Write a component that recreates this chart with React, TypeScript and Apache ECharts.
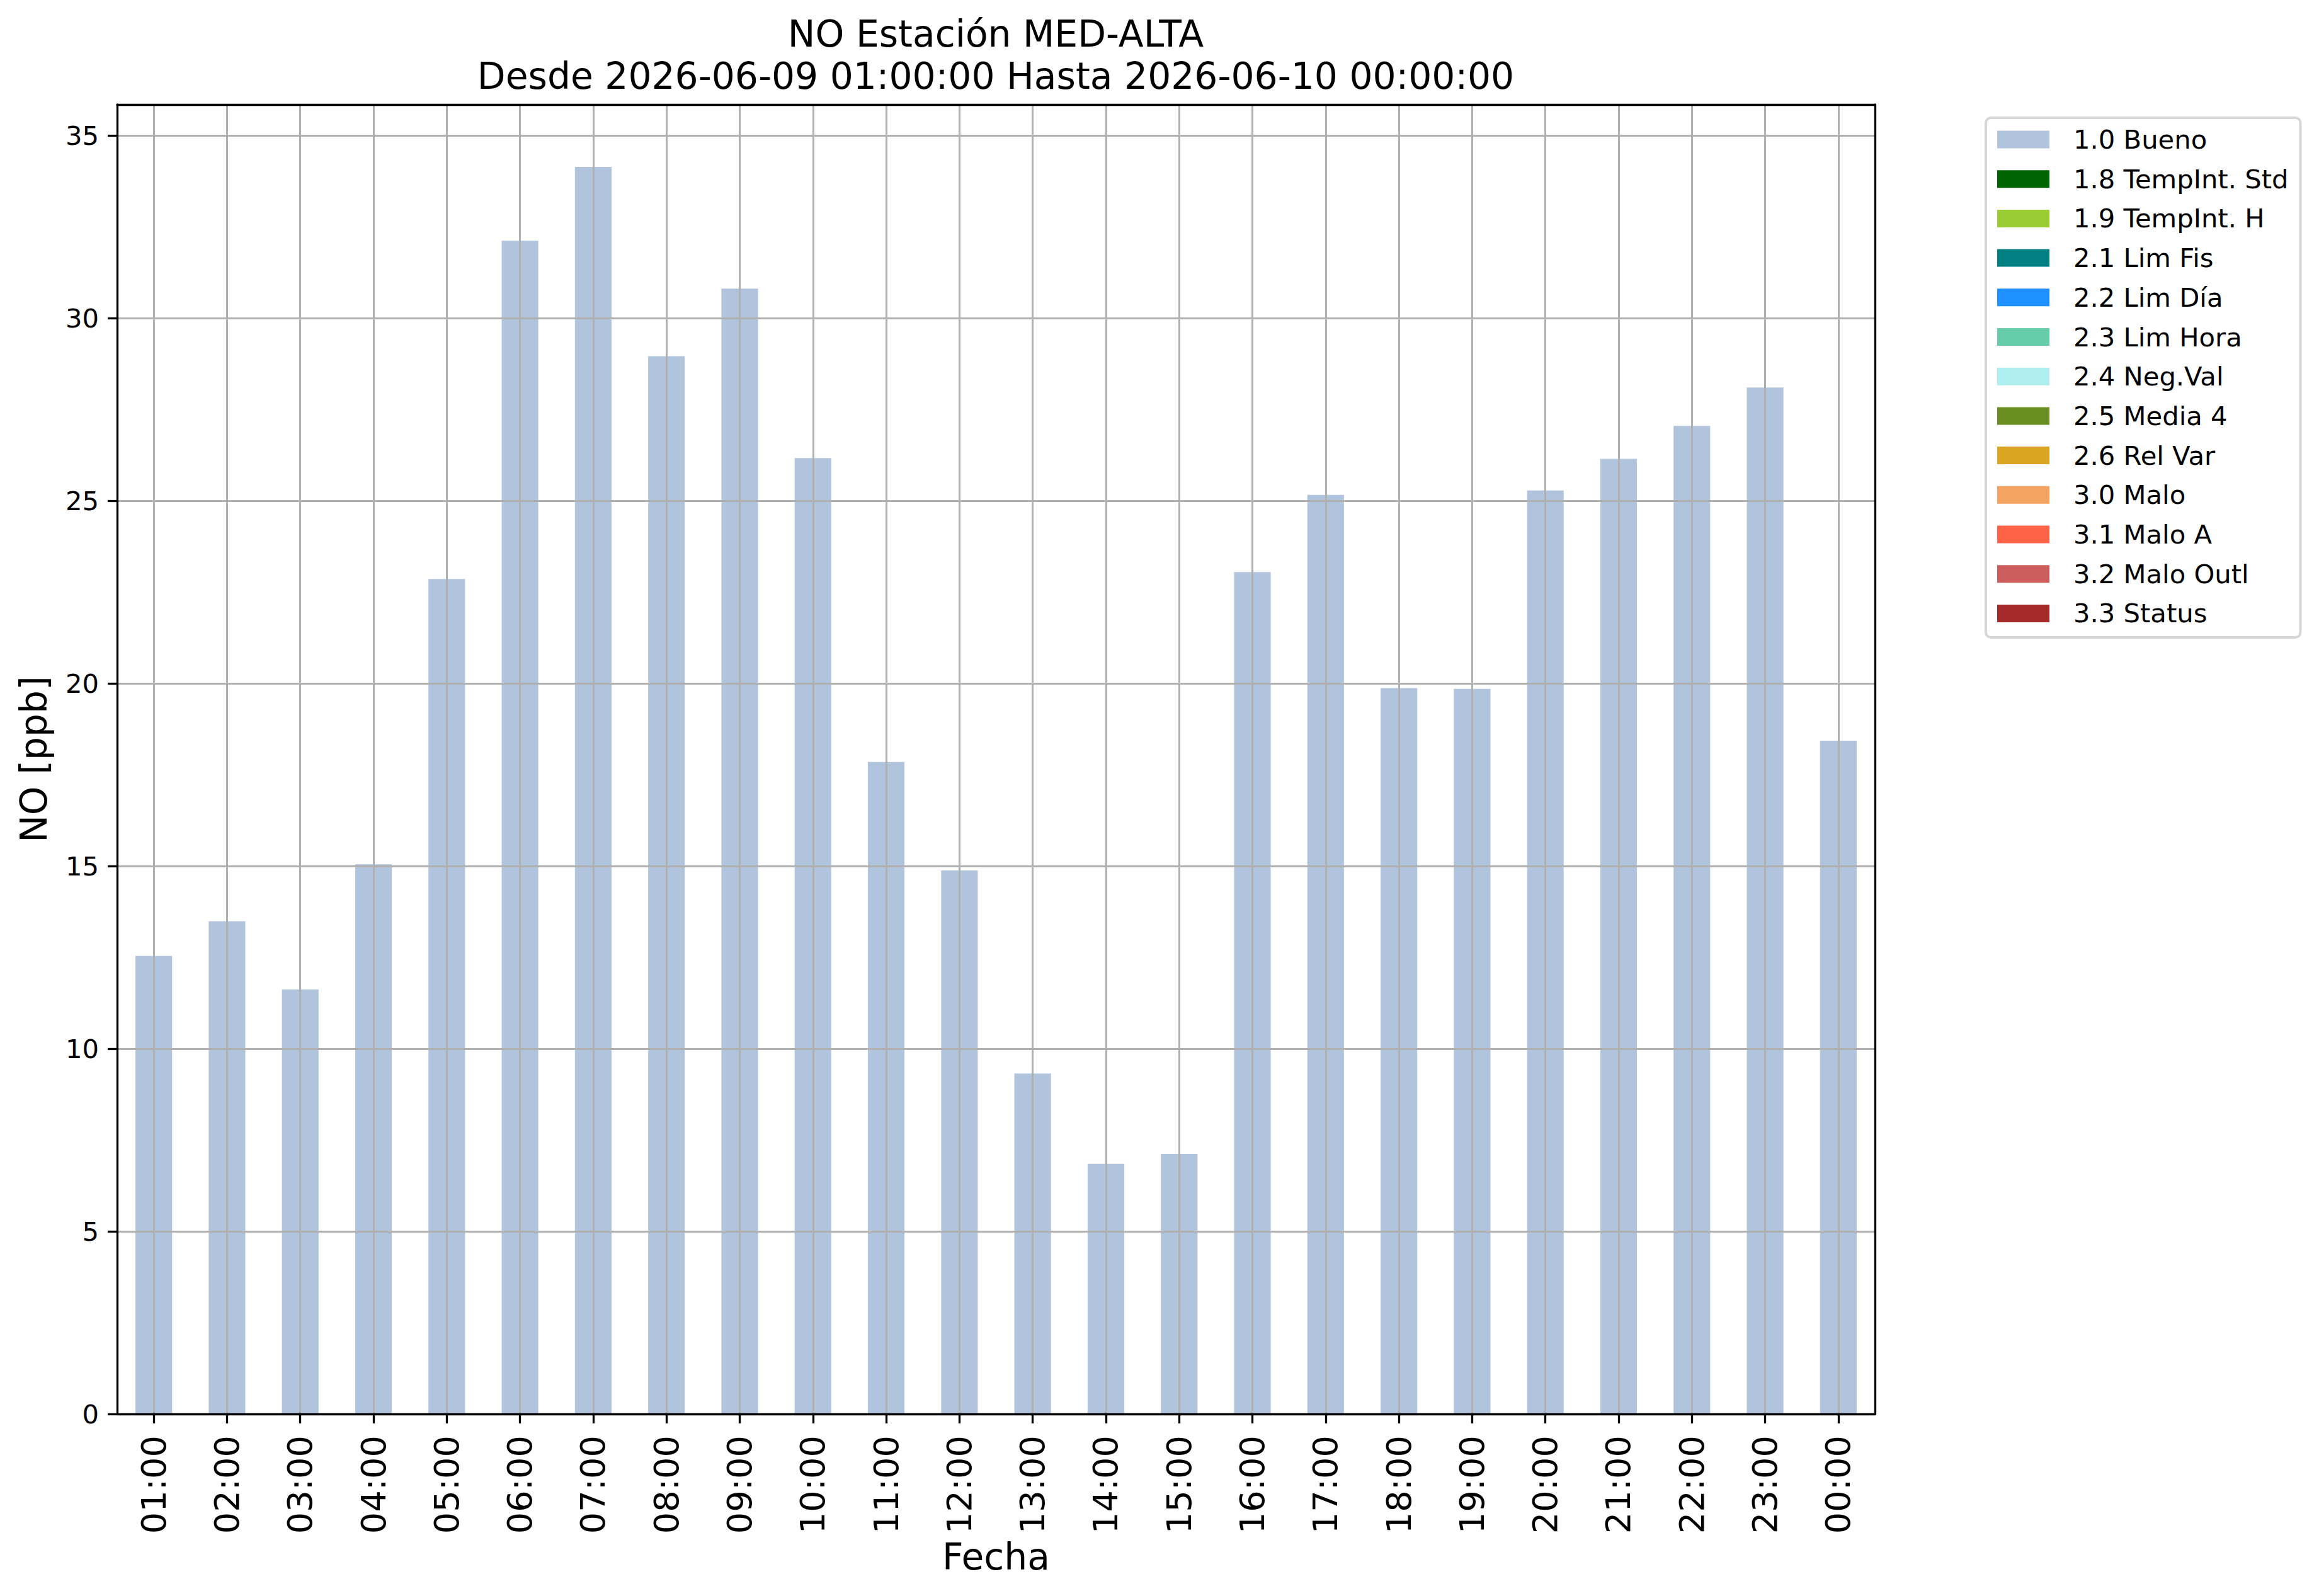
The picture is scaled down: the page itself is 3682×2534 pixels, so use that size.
import React, { useEffect, useRef } from "react";
import * as echarts from "echarts";

const hours = [
  "01:00", "02:00", "03:00", "04:00", "05:00", "06:00", "07:00", "08:00",
  "09:00", "10:00", "11:00", "12:00", "13:00", "14:00", "15:00", "16:00",
  "17:00", "18:00", "19:00", "20:00", "21:00", "22:00", "23:00", "00:00",
];

const buenoValues = [
  12.54, 13.49, 11.62, 15.05, 22.86, 32.12, 34.14, 28.96,
  30.81, 26.17, 17.85, 14.88, 9.32, 6.85, 7.12, 23.05,
  25.16, 19.87, 19.85, 25.28, 26.15, 27.05, 28.1, 18.43,
];

const flagNames = [
  "1.0 Bueno", "1.8 TempInt. Std", "1.9 TempInt. H", "2.1 Lim Fis",
  "2.2 Lim Día", "2.3 Lim Hora", "2.4 Neg.Val", "2.5 Media 4",
  "2.6 Rel Var", "3.0 Malo", "3.1 Malo A", "3.2 Malo Outl", "3.3 Status",
];

const flagColors = [
  "#b0c4de", "#006400", "#9acd32", "#008080",
  "#1e90ff", "#66cdaa", "#afeeee", "#6b8e23",
  "#daa520", "#f4a460", "#ff6347", "#cd5c5c", "#a52a2a",
];

const yTicks = [0, 5, 10, 15, 20, 25, 30, 35];

const titleLines = [
  "NO Estación MED-ALTA",
  "Desde 2026-06-09 01:00:00 Hasta 2026-06-10 00:00:00",
];
const yAxisName = "NO [ppb]";
const xAxisName = "Fecha";

const FONT = "DejaVu Sans";

export default function App() {
  const ref = useRef<HTMLDivElement | null>(null);

  useEffect(() => {
    if (!ref.current) return;
    const chart = echarts.init(ref.current, undefined, { renderer: "svg" });
    const yMax = Math.max(...buenoValues) * 1.05;

    const series = flagNames.map((name, i) => ({
      name,
      type: "bar",
      stack: "flag",
      barWidth: "50%",
      data: i === 0 ? buenoValues : [],
      itemStyle: { color: flagColors[i] },
      z: 2,
    }));

    chart.setOption({
      animation: false,
      backgroundColor: "#ffffff",
      textStyle: { fontFamily: FONT, color: "#000" },
      title: {
        text: titleLines.join("\n"),
        left: 1581,
        top: 21,
        padding: 0,
        textAlign: "center",
        textVerticalAlign: "top",
        textStyle: {
          fontFamily: FONT,
          fontSize: 58.3,
          fontWeight: "normal",
          color: "#000",
          lineHeight: 66.5,
        },
      },
      legend: {
        orient: "vertical",
        left: 3153,
        top: 187,
        padding: [13.5, 19, 17, 18],
        itemWidth: 83,
        itemHeight: 28,
        itemGap: 20.7,
        icon: "rect",
        selectedMode: false,
        backgroundColor: "rgba(255,255,255,0.8)",
        borderColor: "#d6d6d6",
        borderWidth: 4,
        borderRadius: 8,
        data: flagNames,
        textStyle: {
          fontFamily: FONT,
          fontSize: 41.7,
          lineHeight: 42,
          color: "#000",
          padding: [0, 0, 0, 33],
        },
      },
      grid: {
        left: 186,
        right: 705,
        top: 166,
        bottom: 289,
        containLabel: false,
      },
      xAxis: [
        {
          type: "category",
          data: hours,
          position: "bottom",
          z: 3,
          name: xAxisName,
          nameLocation: "middle",
          nameGap: 198,
          nameTextStyle: { fontFamily: FONT, fontSize: 58.3, color: "#000" },
          axisLine: { show: true, onZero: false, lineStyle: { color: "#000", width: 3.3 } },
          axisTick: {
            show: true,
            alignWithLabel: true,
            interval: 0,
            length: 15,
            lineStyle: { color: "#000", width: 3.3 },
          },
          axisLabel: {
            interval: 0,
            rotate: 90,
            margin: 34,
            fontFamily: FONT,
            fontSize: 54.2,
            color: "#000",
          },
          splitLine: {
            show: true,
            interval: 0,
            alignWithLabel: true,
            lineStyle: { color: "#b0b0b0", width: 3 },
          },
        },
        {
          type: "category",
          data: hours,
          position: "top",
          z: 4,
          axisLine: { show: true, onZero: false, lineStyle: { color: "#000", width: 3.3 } },
          axisTick: { show: false },
          axisLabel: { show: false },
          splitLine: { show: false },
        },
      ],
      yAxis: [
        {
          type: "value",
          min: 0,
          max: yMax,
          position: "left",
          z: 3,
          name: yAxisName,
          nameLocation: "middle",
          nameGap: 103,
          nameTextStyle: { fontFamily: FONT, fontSize: 58.3, color: "#000" },
          axisLine: { show: true, onZero: false, lineStyle: { color: "#000", width: 3.3 } },
          axisTick: {
            show: true,
            length: 15,
            customValues: yTicks,
            lineStyle: { color: "#000", width: 3.3 },
          },
          axisLabel: {
            customValues: yTicks,
            margin: 29,
            fontFamily: FONT,
            fontSize: 41.7,
            color: "#000",
          },
          splitLine: {
            show: true,
            lineStyle: { color: "#b0b0b0", width: 3 },
          },
        },
        {
          type: "value",
          min: 0,
          max: yMax,
          position: "right",
          z: 4,
          axisLine: { show: true, onZero: false, lineStyle: { color: "#000", width: 3.3 } },
          axisTick: { show: false },
          axisLabel: { show: false },
          splitLine: { show: false },
        },
      ],
      series,
    });

    return () => {
      chart.dispose();
    };
  }, []);

  return (
    <div
      ref={ref}
      style={{
        position: "absolute",
        left: 0,
        top: 0,
        width: 3682,
        height: 2534,
        background: "#fff",
      }}
    />
  );
}
